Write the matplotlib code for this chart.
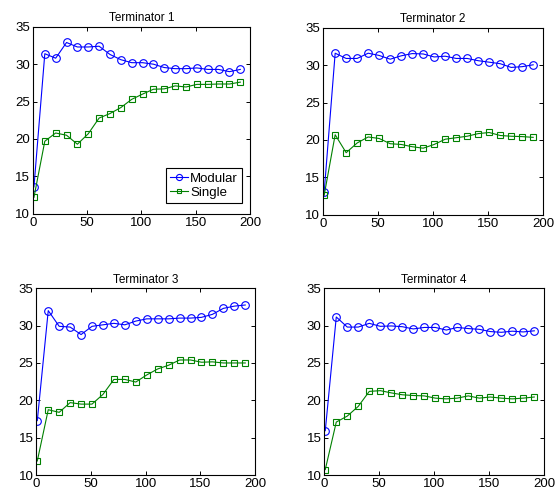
import matplotlib
matplotlib.use("Agg")
import matplotlib.pyplot as plt
import numpy as np

plt.rcParams['font.family'] = ['Liberation Sans', 'DejaVu Sans']

# x positions (every 10 generations, starting at 1)
steps = [1, 11, 21, 31, 41, 51, 61, 71, 81, 91, 101, 111, 121, 131, 141, 151, 161, 171, 181, 191]

titles = ["Terminator 1", "Terminator 2", "Terminator 3", "Terminator 4"]

modular_t1 = [13.6, 31.4, 30.8, 32.9, 32.3, 32.3, 32.4, 31.3, 30.6, 30.2, 30.2, 30.0, 29.55, 29.4, 29.4, 29.5, 29.3, 29.3, 29.0, 29.3]
single_t1 = [12.2, 19.7, 20.8, 20.5, 19.3, 20.7, 22.8, 23.4, 24.2, 25.3, 26.0, 26.65, 26.7, 27.1, 26.95, 27.3, 27.3, 27.35, 27.35, 27.6]

modular_t2 = [13.0, 31.6, 30.9, 30.9, 31.6, 31.3, 30.8, 31.25, 31.55, 31.5, 31.1, 31.2, 30.9, 30.9, 30.6, 30.4, 30.2, 29.7, 29.8, 30.05]
single_t2 = [12.6, 20.7, 18.3, 19.6, 20.4, 20.2, 19.5, 19.4, 19.1, 18.9, 19.4, 20.1, 20.3, 20.5, 20.85, 21.0, 20.6, 20.5, 20.45, 20.35]

modular_t3 = [17.3, 32.0, 29.9, 29.8, 28.8, 29.9, 30.1, 30.3, 30.1, 30.6, 30.9, 30.9, 30.9, 31.0, 31.0, 31.1, 31.5, 32.3, 32.6, 32.75]
single_t3 = [11.9, 18.75, 18.4, 19.7, 19.5, 19.5, 20.8, 22.8, 22.8, 22.45, 23.4, 24.2, 24.7, 25.4, 25.4, 25.1, 25.15, 25.0, 25.0, 25.0]

modular_t4 = [15.95, 31.15, 29.8, 29.8, 30.3, 29.9, 29.95, 29.85, 29.55, 29.75, 29.75, 29.4, 29.75, 29.6, 29.5, 29.2, 29.1, 29.25, 29.15, 29.3]
single_t4 = [10.75, 17.1, 17.9, 19.2, 21.2, 21.3, 21.0, 20.75, 20.65, 20.6, 20.3, 20.2, 20.3, 20.6, 20.3, 20.45, 20.3, 20.2, 20.3, 20.45]

modular = [modular_t1, modular_t2, modular_t3, modular_t4]
single = [single_t1, single_t2, single_t3, single_t4]

fig = plt.figure(figsize=(5.57, 4.96), dpi=100)
positions = [
    [0.059, 0.569, 0.390, 0.377],
    [0.580, 0.567, 0.395, 0.377],
    [0.065, 0.042, 0.393, 0.377],
    [0.582, 0.042, 0.395, 0.377],
]

for i in range(4):
    ax = fig.add_axes(positions[i])
    ax.plot(steps, modular[i], '-o', color='blue', mfc='none', mec='blue',
            markersize=5.5, linewidth=0.8, mew=0.8, label='Modular')
    ax.plot(steps, single[i], '-s', color='#008000', mfc='none', mec='#008000',
            markersize=4, linewidth=0.8, mew=0.8, label='Single')
    ax.set_xlim(0, 200)
    ax.set_ylim(10, 35)
    ax.set_xticks([0, 50, 100, 150, 200])
    ax.set_yticks([10, 15, 20, 25, 30, 35])
    ax.tick_params(direction='in', top=True, right=True, labelsize=9.5, length=3,
                   width=0.7, pad=2)
    for s in ax.spines.values():
        s.set_linewidth(0.8)
    ax.set_title(titles[i], fontsize=8.5, pad=4)
    if i == 0:
        leg = ax.legend(loc='lower right', bbox_to_anchor=(0.963, 0.059),
                        borderaxespad=0, fontsize=9.5, fancybox=False, framealpha=1,
                        edgecolor='black', handlelength=1.4, borderpad=0.3,
                        labelspacing=0.15, handletextpad=0.15, markerscale=0.8)
        leg.get_frame().set_linewidth(0.8)

fig.savefig("out.png", dpi=100)
